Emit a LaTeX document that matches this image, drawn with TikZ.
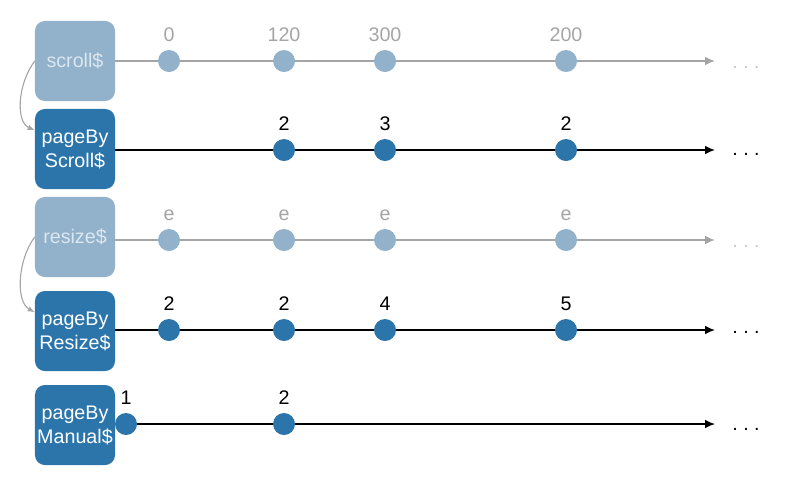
\documentclass[tikz,border=0pt]{standalone}
\usepackage{fontspec}
\setmainfont{Liberation Sans}
\usetikzlibrary{arrows.meta}
\usepackage{xcolor}

\definecolor{streamblue}{RGB}{44,117,170}
\definecolor{fadedblue}{RGB}{146,178,203}
\definecolor{fadedtext}{RGB}{220,230,238}
\definecolor{fadedgray}{RGB}{165,165,165}

\tikzset{
  stream/.style={rectangle, rounded corners=7pt, minimum width=2cm, minimum height=2cm,
    inner sep=0pt, fill=streamblue, text=white, align=center,
    font=\fontsize{14}{17}\selectfont},
  srcstream/.style={stream, fill=fadedblue, text=fadedtext},
  event/.style={circle, fill=streamblue, minimum size=0.55cm, inner sep=0pt},
  srcevent/.style={event, fill=fadedblue},
  evlabel/.style={font=\fontsize{14}{17}\selectfont, text=black, label distance=2pt},
  srclabel/.style={evlabel, text=fadedgray},
  timeline/.style={-{Latex[length=7pt,width=6pt]}, line width=0.9pt},
  srcline/.style={timeline, color=fadedgray},
  more/.style={font=\fontsize{14}{17}\selectfont},
  derive/.style={-{Latex[length=5pt,width=4pt]}, color=fadedgray, line width=0.8pt}
}

\begin{document}
\begin{tikzpicture}[x=0.025cm, y=-0.025cm]
  \useasboundingbox (0,0) rectangle (800,489);

  % streams
  \node[srcstream] (scroll) at (75,61) {scroll\$};
  \node[stream] (pageByScroll) at (75,149) {pageBy\\Scroll\$};
  \node[srcstream] (resize) at (75,237) {resize\$};
  \node[stream] (pageByResize) at (75,331) {pageBy\\Resize\$};
  \node[stream] (pageByManual) at (75,425) {pageBy\\Manual\$};

  % time lines
  \coordinate (scrollEnd) at (715,61);
  \coordinate (pageByScrollEnd) at (715,150);
  \coordinate (resizeEnd) at (715,240);
  \coordinate (pageByResizeEnd) at (715,330);
  \coordinate (pageByManualEnd) at (715,424);
  \draw[srcline] (scroll.east |- scrollEnd) -- (scrollEnd);
  \draw[timeline] (pageByScroll.east |- pageByScrollEnd) -- (pageByScrollEnd);
  \draw[srcline] (resize.east |- resizeEnd) -- (resizeEnd);
  \draw[timeline] (pageByResize.east |- pageByResizeEnd) -- (pageByResizeEnd);
  \draw[timeline] (pageByManual.east |- pageByManualEnd) -- (pageByManualEnd);

  % events
  \foreach \x/\v [count=\i] in {169/0,284/120,385/300,566/200}
    \node[srcevent, label={[srclabel]above:\v}] (scroll\i) at (\x,61) {};
  \foreach \x/\v [count=\i] in {284/2,385/3,566/2}
    \node[event, label={[evlabel]above:\v}] (pageByScroll\i) at (\x,150) {};
  \foreach \x [count=\i] in {169,284,385,566}
    \node[srcevent, label={[srclabel]above:e}] (resize\i) at (\x,240) {};
  \foreach \x/\v [count=\i] in {169/2,284/2,385/4,566/5}
    \node[event, label={[evlabel]above:\v}] (pageByResize\i) at (\x,330) {};
  \foreach \x/\v [count=\i] in {126/1,284/2}
    \node[event, label={[evlabel]above:\v}] (pageByManual\i) at (\x,424) {};

  % and so on
  \node[more, text=fadedgray!60] (scrollMore) at (746,67) {.\ .\ .};
  \node[more] (pageByScrollMore) at (746,154) {.\ .\ .};
  \node[more, text=fadedgray!60] (resizeMore) at (746,246) {.\ .\ .};
  \node[more] (pageByResizeMore) at (746,332) {.\ .\ .};
  \node[more] (pageByManualMore) at (746,429) {.\ .\ .};

  % derived from
  \draw[derive] (scroll.west) .. controls (17,85) and (16,122) .. (pageByScroll.155);
  \draw[derive] (resize.west) .. controls (17,261) and (16,302) .. (pageByResize.155);
\end{tikzpicture}
\end{document}
